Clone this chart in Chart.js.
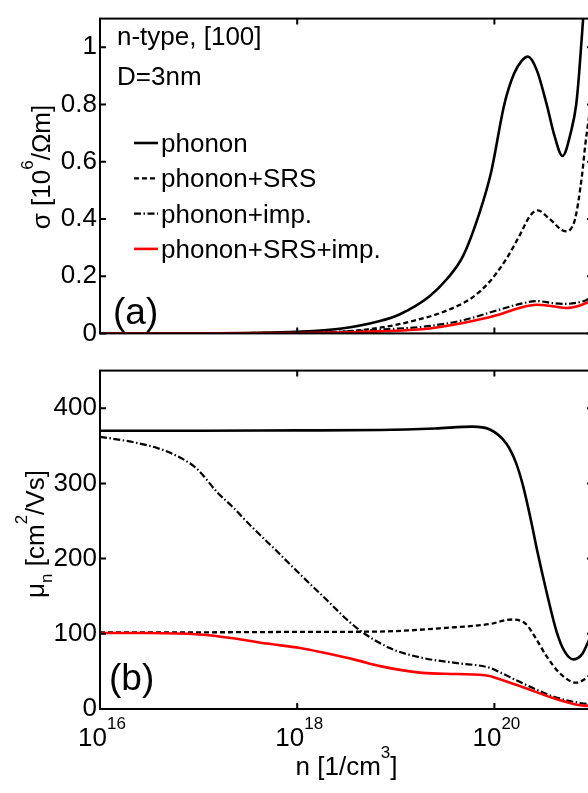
<!DOCTYPE html>
<html>
<head>
<meta charset="utf-8">
<script src="https://cdn.jsdelivr.net/npm/chart.js@4.4.1/dist/chart.umd.min.js"></script>
<style>
  html, body { margin: 0; padding: 0; background: #fff; overflow: hidden; width: 588px; height: 793px; }
  canvas { position: absolute; left: 0; }
  #chartA { top: 0; }
  #chartB { top: 352px; }
</style>
</head>
<body>
<canvas id="chartA" width="600" height="352"></canvas>
<canvas id="chartB" width="600" height="441"></canvas>
<script>
// ---- data ----
// x axis: carrier density n [1/cm^3], log scale
const xTickExps = [16, 18, 20];
const yTicksA = [0, 0.2, 0.4, 0.6, 0.8, 1];
const yTicksB = [0, 100, 200, 300, 400];
const legendLabels = ['phonon', 'phonon+SRS', 'phonon+imp.', 'phonon+SRS+imp.'];

// (a) conductivity sigma [10^6 / Ohm m]
const nSigPhonon = [1e16, 1e17, 1e18, 2.7e18, 6.9e18, 1.1e19, 2.2e19, 3.3e19, 4.8e19, 7.1e19, 9.3e19, 1.26e20, 1.58e20, 1.9e20, 2.19e20, 2.69e20, 3.39e20, 4.07e20, 4.9e20, 6.03e20, 6.76e20, 7.24e20, 7.94e20, 1e21];
const sigPhonon  = [0.0001, 0.0006, 0.006, 0.016, 0.043, 0.067, 0.13, 0.19, 0.27, 0.424, 0.566, 0.80, 0.907, 0.953, 0.967, 0.92, 0.80, 0.69, 0.62, 0.71, 0.80, 0.91, 1.10, 1.6];

const nSigSRS = [1e16, 1e17, 1e18, 2.7e18, 6.9e18, 1.48e19, 3.3e19, 6.0e19, 8.9e19, 1.32e20, 1.82e20, 2.29e20, 2.75e20, 3.63e20, 5.25e20, 6.46e20, 7.76e20, 8.32e20, 1e21];
const sigSRS  = [0.00002, 0.0002, 0.0016, 0.005, 0.02, 0.043, 0.08, 0.126, 0.18, 0.26, 0.345, 0.41, 0.43, 0.40, 0.357, 0.39, 0.556, 0.655, 0.85];

const nSigImp = [1e16, 1e17, 1e18, 2.7e18, 6.9e18, 2.2e19, 4.8e19, 1.05e20, 1.82e20, 2.69e20, 3.89e20, 5.13e20, 7.24e20, 8.51e20, 1e21];
const sigImp  = [0.00006, 0.0005, 0.003, 0.006, 0.013, 0.026, 0.046, 0.08, 0.103, 0.113, 0.106, 0.103, 0.109, 0.116, 0.13];

const nSigAll = [1e16, 1e17, 1e18, 2.7e18, 6.9e18, 2.2e19, 4.8e19, 1.05e20, 1.82e20, 2.69e20, 3.89e20, 5.37e20, 7.24e20, 8.51e20, 1e21];
const sigAll  = [0.00002, 0.00016, 0.0013, 0.003, 0.007, 0.017, 0.036, 0.063, 0.09, 0.10, 0.095, 0.089, 0.097, 0.106, 0.115];

// (b) mobility mu_n [cm^2/Vs]
const nMuPhonon = [1e16, 1e17, 1e18, 6.9e18, 2.5e19, 6.0e19, 8.9e19, 1.32e20, 1.66e20, 1.95e20, 2.4e20, 2.69e20, 3.39e20, 4.27e20, 5.13e20, 6.31e20, 7.76e20, 8.71e20, 1e21];
const muPhonon  = [370, 370, 370.5, 371, 373, 375.5, 372, 353, 327, 297, 245, 213, 155, 103, 77, 66, 73, 86, 105];

const nMuSRS = [1e16, 1e17, 1e18, 6.9e18, 3.3e19, 8.9e19, 1.51e20, 2.09e20, 2.63e20, 3.39e20, 4.57e20, 6.76e20, 8.71e20, 1e21];
const muSRS  = [102, 102, 102.5, 103, 108, 113, 119, 113, 94, 70, 48, 35, 42, 50];

const nMuImp = [1e16, 2.14e16, 3.8e16, 5.5e16, 9.5e16, 1.55e17, 2.24e17, 3.3e17, 6.2e17, 8.5e17, 1.82e18, 4.0e18, 8.7e18, 1.86e19, 4.2e19, 8.9e19, 1.05e20, 1.95e20, 4.07e20, 7.4e20, 1e21];
const muImp  = [362, 355, 347, 339, 320, 288, 268, 245, 210, 192, 150, 108, 81, 68, 61, 55, 51, 34, 16, 8, 6];

const nMuAll = [1e16, 3.16e16, 1.02e17, 2.24e17, 4.9e17, 1.07e18, 1.82e18, 4.0e18, 6.9e18, 1.86e19, 4.2e19, 8.9e19, 1e20, 1.95e20, 4.07e20, 7.4e20, 1e21];
const muAll  = [101, 101, 99, 94, 87, 81, 75, 65, 57, 48, 46.5, 44, 42, 29, 14, 5, 4];

// ---- helpers ----
const FONT = "'Liberation Sans', Arial, sans-serif";
const pts = (ns, vs) => ns.map((n, i) => ({ x: n, y: vs[i] }));
const styles = [
  { color: '#000', dash: [], width: 2.6, order: 4 },
  { color: '#000', dash: [5, 3], width: 2.3, order: 3 },
  { color: '#000', dash: [7, 2.5, 1.5, 2.5], width: 2.2, order: 2 },
  { color: '#ff0000', dash: [], width: 2.6, order: 1 }
];

function makeDatasets(series) {
  return series.map((s, i) => ({
    label: legendLabels[i],
    data: s,
    borderColor: styles[i].color,
    borderDash: styles[i].dash,
    borderWidth: styles[i].width,
    order: styles[i].order,
    pointRadius: 0,
    fill: false,
    cubicInterpolationMode: 'monotone'
  }));
}

// text with super/subscripts; parts = [[text, 'sup'|'sub'|undefined], ...]
function richText(ctx, x, y, parts, size, rotate) {
  const small = Math.round(size * 0.65);
  ctx.save();
  ctx.translate(x, y);
  if (rotate) ctx.rotate(-Math.PI / 2);
  ctx.fillStyle = '#000';
  ctx.textBaseline = 'alphabetic';
  ctx.textAlign = 'left';
  let w = 0;
  parts.forEach(p => { ctx.font = (p[1] ? small : size) + 'px ' + FONT; w += ctx.measureText(p[0]).width; });
  let cx = -w / 2;
  parts.forEach(p => {
    ctx.font = (p[1] ? small : size) + 'px ' + FONT;
    const dy = p[1] === 'sup' ? -size * 0.66 : p[1] === 'sub' ? size * 0.3 : 0;
    ctx.fillText(p[0], cx, dy);
    cx += ctx.measureText(p[0]).width;
  });
  ctx.restore();
}

// box with inward ticks on all four sides
const frame = {
  id: 'frame',
  afterDatasetsDraw(chart) {
    const { ctx, chartArea: a, scales: { x, y } } = chart;
    const tl = 6;
    ctx.save();
    ctx.strokeStyle = '#000';
    ctx.lineWidth = 2;
    ctx.strokeRect(a.left, a.top, a.right - a.left, a.bottom - a.top);
    ctx.beginPath();
    x.ticks.forEach(t => {
      const px = x.getPixelForValue(t.value);
      ctx.moveTo(px, a.bottom); ctx.lineTo(px, a.bottom - tl);
      ctx.moveTo(px, a.top); ctx.lineTo(px, a.top + tl);
    });
    y.ticks.forEach(t => {
      const py = y.getPixelForValue(t.value);
      ctx.moveTo(a.left, py); ctx.lineTo(a.left + tl, py);
      ctx.moveTo(a.right, py); ctx.lineTo(a.right - tl, py);
    });
    ctx.stroke();
    ctx.restore();
  }
};

const textsA = {
  id: 'textsA',
  afterDatasetsDraw(chart) {
    const { ctx } = chart;
    ctx.save();
    ctx.fillStyle = '#000';
    ctx.font = '26px ' + FONT;
    ctx.textBaseline = 'alphabetic';
    ctx.fillText('n-type, [100]', 117, 45);
    ctx.fillText('D=3nm', 117, 85);
    chart.data.datasets.forEach((ds, i) => {
      const yb = 152 + i * 35.3;
      ctx.beginPath();
      ctx.strokeStyle = ds.borderColor;
      ctx.lineWidth = ds.borderWidth;
      ctx.setLineDash(ds.borderDash);
      ctx.moveTo(134, yb - 9); ctx.lineTo(158, yb - 9);
      ctx.stroke();
      ctx.setLineDash([]);
      ctx.fillText(ds.label, 161, yb);
    });
    ctx.font = '37px ' + FONT;
    ctx.fillText('(a)', 113, 324);
    ctx.restore();
    richText(ctx, 50, 167, [['σ [10'], ['6', 'sup'], ['/Ωm]']], 26, true);
  }
};

const textsB = {
  id: 'textsB',
  afterDatasetsDraw(chart) {
    const { ctx, chartArea: a, scales: { x } } = chart;
    ctx.save();
    ctx.fillStyle = '#000';
    ctx.font = '37px ' + FONT;
    ctx.fillText('(b)', 109, 690 - 352);
    ctx.restore();
    // x tick labels 10^k
    x.ticks.forEach((t, i) => {
      richText(ctx, x.getPixelForValue(t.value) + 2, a.bottom + 37, [['10'], [String(xTickExps[i]), 'sup']], 26, false);
    });
    richText(ctx, (a.left + a.right) / 2, a.bottom + 66, [['n [1/cm'], ['3', 'sup'], [']']], 26, false);
    richText(ctx, 44, 534 - 352, [['μ'], ['n', 'sub'], [' [cm'], ['2', 'sup'], ['/Vs]']], 26, true);
  }
};

function makeOptions(yMax, yTicks, xHeight, padTop) {
  return {
    responsive: false,
    animation: false,
    devicePixelRatio: 1,
    layout: { padding: { top: padTop, right: 7, left: 0, bottom: 0 } },
    plugins: { legend: { display: false }, tooltip: { enabled: false } },
    scales: {
      x: {
        type: 'logarithmic', min: 1e16, max: 1e21,
        grid: { display: false, drawTicks: false },
        border: { display: false },
        ticks: { display: false },
        afterBuildTicks: s => { s.ticks = xTickExps.map(e => ({ value: Math.pow(10, e) })); },
        afterFit: s => { s.height = xHeight; }
      },
      y: {
        min: 0, max: yMax,
        grid: { display: false, drawTicks: false },
        border: { display: false },
        ticks: {
          color: '#000', padding: 3,
          font: { family: FONT, size: 26 },
          callback: v => String(+(+v).toFixed(1))
        },
        afterBuildTicks: s => { s.ticks = yTicks.map(v => ({ value: v })); },
        afterFit: s => { s.width = 100; }
      }
    }
  };
}

new Chart(document.getElementById('chartA'), {
  type: 'line',
  data: { datasets: makeDatasets([pts(nSigPhonon, sigPhonon), pts(nSigSRS, sigSRS), pts(nSigImp, sigImp), pts(nSigAll, sigAll)]) },
  options: makeOptions(1.1, yTicksA, 11, 8),
  plugins: [frame, textsA]
});

new Chart(document.getElementById('chartB'), {
  type: 'line',
  data: { datasets: makeDatasets([pts(nMuPhonon, muPhonon), pts(nMuSRS, muSRS), pts(nMuImp, muImp), pts(nMuAll, muAll)]) },
  options: makeOptions(450, yTicksB, 84, 11),
  plugins: [frame, textsB]
});
</script>
</body>
</html>
